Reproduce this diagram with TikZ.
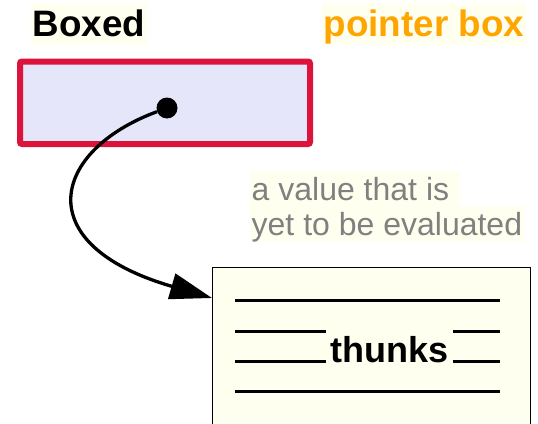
\documentclass[tikz,border=0pt]{standalone}
\usepackage{fontspec}
\setmainfont{Liberation Sans}
\usepackage{xcolor}
\usetikzlibrary{arrows.meta, calc}
\definecolor{boxRed}{HTML}{DC143C}
\definecolor{boxLavender}{HTML}{E6E6FA}
\definecolor{noteIvory}{HTML}{FFFFF0}
\definecolor{headOrange}{HTML}{FFA500}
\definecolor{noteGray}{HTML}{808080}

\begin{document}
\begin{tikzpicture}[
  x=1pt, y=-1pt,
  every node/.style={inner sep=0pt},
  heading/.style={fill=noteIvory, font=\fontsize{36.8}{40}\selectfont\bfseries, text height=33pt, text depth=9pt, inner xsep=1.5pt, anchor=base west},
  note/.style={fill=noteIvory, font=\fontsize{32}{36}\selectfont, text=noteGray, text height=29.5pt, text depth=7pt, inner xsep=1.5pt, anchor=base west},
  pointer/.style={rectangle, draw=boxRed, fill=boxLavender, line width=6pt, rounded corners=2pt, minimum width=290pt, minimum height=82.5pt},
  thunkbox/.style={rectangle, draw=black, fill=noteIvory, line width=1pt, minimum width=318pt, minimum height=200pt, anchor=north west},
  rule/.style={line width=3pt},
  arrow/.style={line width=3.3pt, -{Triangle[length=42pt, width=26pt]}},
]
\clip (0,0) rectangle (538,423);

% === HEADINGS ===
\node[heading] (boxed) at (31,36) {Boxed};
\node[heading, text=headOrange] (ptrtitle) at (322,36) {pointer box};

% === POINTER BOX ===
\node[pointer] (ptr) at (165,102.75) {};
\node[circle, fill=black, minimum size=21pt] (dot) at (167,108) {};

% === NOTE ===
\node[note] (note1) at (250,200) {a value that is\kern.28em};
\node[note] (note2) at (250,235) {yet to be evaluated};

% === THUNK BOX ===
\node[thunkbox] (thunk) at (212,267) {};
\node[font=\fontsize{36}{40}\selectfont\bfseries, inner xsep=4pt, anchor=base] (thunks) at (389.5,362) {thunks};
\draw[rule] (235,300) -- (500,300);
\draw[rule] (235,331) -- (326,331);
\draw[rule] (453,331) -- (500,331);
\draw[rule] (235,361) -- ($(thunks.base west)+(0,-1)$);
\draw[rule] ($(thunks.base east)+(0,-1)$) -- (500,361);
\draw[rule] (235,391) -- (500,391);

% === ARROW: pointer to thunk ===
\coordinate (tip) at ($(thunk.north west)+(0,31)$);
\draw[arrow] (dot) .. controls (53,150) and (26,244) .. (tip);

\end{tikzpicture}
\end{document}
